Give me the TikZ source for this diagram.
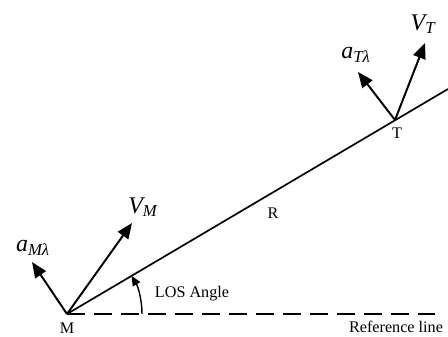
\documentclass[tikz,border=0pt]{standalone}
\usepackage{fontspec}
\setmainfont{Liberation Serif}
\usetikzlibrary{arrows.meta,positioning,calc}

\begin{document}
\begin{tikzpicture}[
            x=0.025cm, y=0.025cm,
            vec/.style={line width=1.4pt, -{Triangle[length=11pt,width=9pt]}},
            lbl/.style={font=\fontsize{11.5}{13}\selectfont, inner sep=1pt},
            sym/.style={font=\fontsize{17}{20}\selectfont\itshape, inner sep=1pt}
        ]
            \useasboundingbox (0,0) rectangle (448,336);
            % points
            \coordinate (M) at (67,22);
            \coordinate (T) at (395,216);
            \coordinate (los) at (448,247);
            \coordinate (ref) at (435,22);
            \coordinate (vm) at (132,113);
            \coordinate (am) at (32,74);
            \coordinate (vt) at (425,293);
            \coordinate (at) at (358,264);

            % lines
            \draw[line width=1.2pt] (M) -- (los);
            \draw[line width=1.2pt, dash pattern=on 12.8pt off 6.4pt] (M) -- (ref);
            \draw[vec] (M) -- (vm);
            \draw[vec] (M) -- (am);
            \draw[vec] (T) -- (vt);
            \draw[vec] (T) -- (at);
            \draw[line width=1pt, -{Triangle[length=7pt,width=6pt]}] ($(M)+(75,0)$) arc[start angle=0, end angle=30.6, radius=75];

            % labels
            \node[lbl, inner sep=0pt] (mlab) at (67,8) {M};
            \node[lbl] (tlab) at (397,203) {T};
            \node[lbl] (rlab) at (273,123) {R};
            \node[lbl] (loslab) at (192,42) {LOS Angle};
            \node[lbl] (reflab) at (396,9) {Reference line};
            \node[sym] (vmlab) at (143,129) {V\textsubscript{M}};
            \node[sym] (amlab) at (33,88) {a\textsubscript{Mλ}};
            \node[sym] (vtlab) at (423,312) {V\textsubscript{T}};
            \node[sym] (atlab) at (356,281) {a\textsubscript{Tλ}};
        \end{tikzpicture}
\end{document}
